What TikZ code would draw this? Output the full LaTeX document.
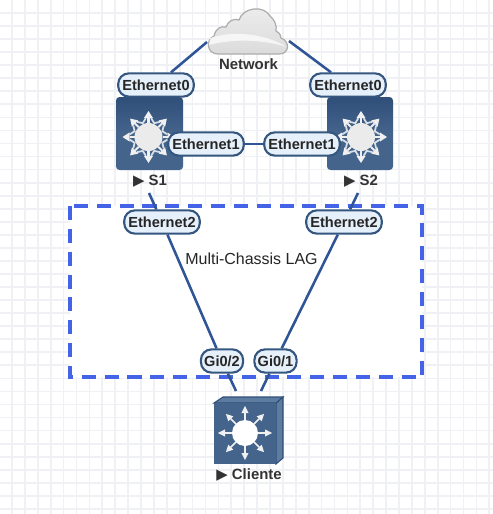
\documentclass[tikz,border=0pt]{standalone}
\usepackage{fontspec}
\setmainfont{Liberation Sans}
\newfontfamily\symfont{DejaVu Sans}
\usetikzlibrary{positioning,calc,shapes.geometric}
\definecolor{gridline}{HTML}{EFF1F4}
\definecolor{linkblue}{HTML}{2F5597}
\definecolor{lagblue}{HTML}{4463E6}
\definecolor{portfill}{HTML}{E6F0FA}
\definecolor{portedge}{HTML}{34567F}
\definecolor{switchtop}{HTML}{2F4F7A}
\definecolor{switchbody}{HTML}{44648C}
\definecolor{switchside}{HTML}{5E7C9F}

% arrows round the disc of a switch icon
\newcommand{\switchstar}[6]{%
    \foreach \a in {0,45,...,315} {
        \draw[white!94!black, line width=#6] ($(#1,#2)+(\a:#3)$) -- ($(#1,#2)+(\a:#4)$);
        \fill[white!94!black] ($(#1,#2)+(\a:#4+7)$) -- ($(#1,#2)+(\a:#4)+(\a+90:#5)$) -- ($(#1,#2)+(\a:#4)+(\a-90:#5)$) -- cycle;
    }
}
% zigzag between the arrows of a layer 3 chassis
\newcommand{\zigzag}[2]{%
    \foreach \a in {0,45,...,315} {
        \draw[white!80!switchbody, line width=1pt] ($(#1,#2)+(\a+8:19)$) -- ($(#1,#2)+(\a+22.5:15)$) -- ($(#1,#2)+(\a+37:19)$);
    }
}
% layer 3 chassis seen from the front
\newcommand{\chassis}[4]{%
    \shade[top color=switchtop, bottom color=switchbody, middle color=switchbody, rounded corners=2pt] (#1,#2) rectangle (#3,#4);
}

\begin{document}
\begin{tikzpicture}[
    x=0.2mm, y=-0.2mm,
    portlabel/.style={draw=portedge, fill=portfill, line width=1.2pt, rounded corners=6pt, font=\fontsize{8.3}{10}\selectfont\bfseries, text=black!85, inner sep=0pt, minimum height=13.2pt, align=center},
    ethlabel/.style={portlabel, minimum width=43pt},
    gilabel/.style={portlabel, minimum width=24pt},
    devlabel/.style={font=\fontsize{8.5}{10}\selectfont\bfseries, text=black!80, inner sep=1pt},
    link/.style={draw=linkblue, line width=1.45pt},
    lagbox/.style={draw=lagblue, fill=white, dash pattern=on 8pt off 5pt, line width=1.9pt}
]

    % Fondo cuadriculado
    \useasboundingbox (0,0) rectangle (493,514);
    \fill[white] (0,0) rectangle (493,514);
    \foreach \i in {0,...,38} {
        \draw[gridline, line width=1pt] (12+\i*12.9,0) -- (12+\i*12.9,514);
    }
    \foreach \i in {0,...,38} {
        \draw[gridline, line width=1pt] (0,13+\i*13.05) -- (493,13+\i*13.05);
    }

    % Caja del LAG
    \draw[lagbox] (70,206) rectangle (422,377);
    \node[font=\fontsize{9.1}{11}\selectfont, text=black!85, inner sep=0pt] (lag) at (251.5,259) {Multi-Chassis LAG};

    % Nube
    \shade[top color=white!93!black, bottom color=black!14, draw=black!32, line width=0.7pt]
        (218,54) .. controls (207,54) and (205,40) .. (214,36)
        .. controls (216,28) and (221,26) .. (226,27)
        .. controls (228,21) and (234,18) .. (239,20)
        .. controls (243,7) and (264,5) .. (270,16)
        .. controls (275,20) and (277,26) .. (276,31)
        .. controls (280,33) and (281,36) .. (281,38)
        .. controls (290,41) and (290,54) .. (279,54) -- cycle;
    \fill[white, opacity=0.7] (210,38) .. controls (235,30) and (265,34) .. (287,47)
        .. controls (265,40) and (235,38) .. (209,45) -- cycle;
    \coordinate (netL) at (207,42);
    \coordinate (netR) at (289,41);
    \node[devlabel] (network) at (248.5,64) {Network};

    % Equipos S1 y S2
    \chassis{116}{97}{183}{170}
    \zigzag{148.5}{137}
    \switchstar{148.5}{137}{14}{19}{4.5}{1.2pt}
    \fill[white!92!black] (148.5,137) circle (14);
    \chassis{327}{97}{393}{170}
    \zigzag{361}{137}
    \switchstar{361}{137}{14}{19}{4.5}{1.2pt}
    \fill[white!92!black] (361,137) circle (14);
    \node[devlabel] (S1) at (150,181) {{\symfont ▶} S1};
    \node[devlabel] (S2) at (361,181) {{\symfont ▶} S2};
    \coordinate (S1out) at (149,193);
    \coordinate (S2out) at (358,193);

    % Equipo Cliente
    \draw[switchtop, fill=switchside, line width=0.6pt] (276,403) -- (283,397) -- (283,458) -- (276,464) -- cycle;
    \draw[switchtop, fill=switchside, line width=0.6pt] (214,403) -- (223,397) -- (283,397) -- (276,403) -- cycle;
    \fill[switchbody] (214,403) rectangle (276,464);
    \switchstar{245}{433}{13}{20}{3.6}{1pt}
    \fill[white] (245,433) circle (13);
    \node[devlabel] (cliente) at (249,475) {{\symfont ▶} Cliente};
    \coordinate (cliL) at (236,391);
    \coordinate (cliR) at (261,391);

    % Etiquetas de puerto
    \node[ethlabel] (S1eth0) at (156,85) {Ethernet0};
    \node[ethlabel] (S2eth0) at (348,85) {Ethernet0};
    \node[ethlabel] (S1eth1) at (206,144) {Ethernet1};
    \node[ethlabel] (S2eth1) at (302,144) {Ethernet1};
    \node[ethlabel] (S1eth2) at (162,222) {Ethernet2};
    \node[ethlabel] (S2eth2) at (344,222) {Ethernet2};
    \node[gilabel] (gi02) at (222,361) {Gi0/2};
    \node[gilabel] (gi01) at (275.5,361) {Gi0/1};

    % Enlaces
    \draw[link] (netL) -- (S1eth0);
    \draw[link] (netR) -- (S2eth0);
    \draw[link] (S1eth1) -- (S2eth1);
    \draw[link] (S1out) -- (S1eth2);
    \draw[link] (S1eth2) -- (gi02);
    \draw[link] (gi02) -- (cliL);
    \draw[link] (S2out) -- (S2eth2);
    \draw[link] (S2eth2) -- (gi01);
    \draw[link] (gi01) -- (cliR);

\end{tikzpicture}
\end{document}
